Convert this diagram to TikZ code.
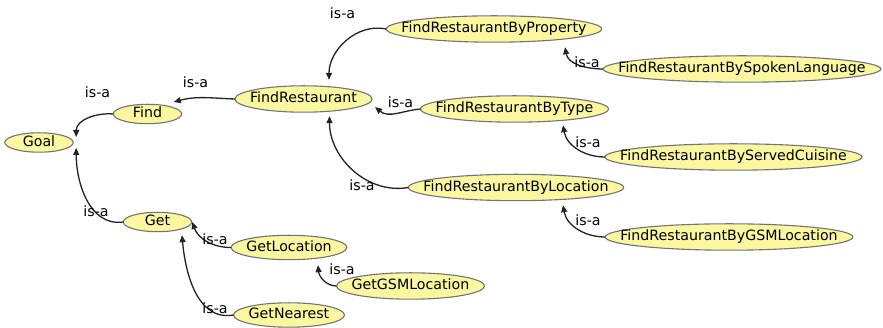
\documentclass[tikz,border=0pt]{standalone}
\usepackage{fontspec}
\setmainfont{DejaVu Sans}
\usetikzlibrary{arrows.meta,calc,backgrounds}

\definecolor{ovalfill}{RGB}{250,247,160}
\definecolor{ovalline}{RGB}{115,115,115}
\definecolor{edgecol}{RGB}{35,35,35}

\tikzset{
  concept/.style={rectangle, inner xsep=15pt, inner ysep=0pt,
    minimum width=68pt, minimum height=26pt,
    text height=10.5pt, text depth=3pt,
    font=\fontsize{14.2}{16}\selectfont},
  small/.style={minimum height=19pt},
  mid/.style={minimum height=24pt},
  conceptshape/.style={fill=ovalfill, draw=ovalline, line width=1.1pt},
  isa/.style={draw=edgecol, line width=1.3pt,
    -{Triangle[length=7pt,width=6pt]}},
  isalabel/.style={inner sep=0pt, font=\fontsize{14.2}{16}\selectfont},
}

% a concept: text node with an ellipse inscribed in its box, drawn behind it
\newcommand\conceptnode[4][]{%
  \node[concept,#1] (#2) at (#3) {#4};
  \begin{scope}[on background layer]
    \path[conceptshape] let \p1=($(#2.north east)-(#2.center)$) in
      (#2.center) ellipse [x radius=\x1, y radius=\y1];
  \end{scope}}

\begin{document}
\begin{tikzpicture}[x=1pt,y=1pt]
  \useasboundingbox (0,0) rectangle (883,328);
  \begin{scope}[on background layer]
    \fill[white] (0,0) rectangle (883,328);
  \end{scope}

  % concepts
  \conceptnode[small]{Goal}{39,185.5}{Goal}
  \conceptnode[small]{Find}{147.5,214}{Find}
  \conceptnode{FR}{303.5,229}{FindRestaurant}
  \conceptnode{FRProp}{494,299}{FindRestaurantByProperty}
  \conceptnode{FRLang}{742,259}{FindRestaurantBySpokenLanguage}
  \conceptnode{FRType}{514.5,219}{FindRestaurantByType}
  \conceptnode{FRCuisine}{733.5,171}{FindRestaurantByServedCuisine}
  \conceptnode{FRLoc}{516,140.5}{FindRestaurantByLocation}
  \conceptnode{FRGSM}{729,91}{FindRestaurantByGSMLocation}
  \conceptnode[small]{Get}{157.5,106}{Get}
  \conceptnode[mid]{GetLoc}{289,80.5}{GetLocation}
  \conceptnode{GetGSM}{410.5,42}{GetGSMLocation}
  \conceptnode[mid]{GetNear}{289,13}{GetNearest}

  % is-a links, child to parent
  \draw[isa] (Find.west) to[out=175,in=90] ($(Goal.east)+(3,5.5)$);
  \draw[isa] (Get.west) to[out=188,in=-90] ($(Goal.east)+(3,-5.5)$);
  \draw[isa] (FR.west) to[out=178,in=15] ($(Find.east)+(-8,12)$);
  \draw[isa] (FRProp.west) to[out=168,in=90] ($(FR.north)+(25.5,6)$);
  \draw[isa] (FRType.west) to[out=185,in=-40] ($(FR.east)+(3,-8)$);
  \draw[isa] (FRLoc.west) to[out=190,in=-90] ($(FR.south)+(26,-4)$);
  \draw[isa] (FRLang.west) to[out=180,in=-80] ($(FRProp.south)+(71,-5)$);
  \draw[isa] (FRCuisine.west) to[out=180,in=-80] ($(FRType.south)+(48.5,-3)$);
  \draw[isa] (FRGSM.west) to[out=180,in=-80] ($(FRLoc.south)+(47,-4.5)$);
  \draw[isa] (GetLoc.west) to[out=180,in=-70] ($(Get.east)+(0.5,0)$);
  \draw[isa] (GetGSM.west) to[out=180,in=-85] ($(GetLoc.south)+(29,-5.5)$);
  \draw[isa] (GetNear.west) to[out=190,in=-85] ($(Get.south)+(24.5,-3.5)$);

  % link labels
  \node[isalabel] (l1) at (97.5,236) {is-a};
  \node[isalabel] (l2) at (96,117) {is-a};
  \node[isalabel] (l3) at (195.5,246) {is-a};
  \node[isalabel] (l4) at (342.5,315) {is-a};
  \node[isalabel] (l5) at (400.5,226) {is-a};
  \node[isalabel] (l6) at (362,143) {is-a};
  \node[isalabel] (l7) at (587,266) {is-a};
  \node[isalabel] (l8) at (588,186) {is-a};
  \node[isalabel] (l9) at (588,108) {is-a};
  \node[isalabel] (l10) at (215,89) {is-a};
  \node[isalabel] (l11) at (342,59) {is-a};
  \node[isalabel] (l12) at (215,20) {is-a};
\end{tikzpicture}
\end{document}
